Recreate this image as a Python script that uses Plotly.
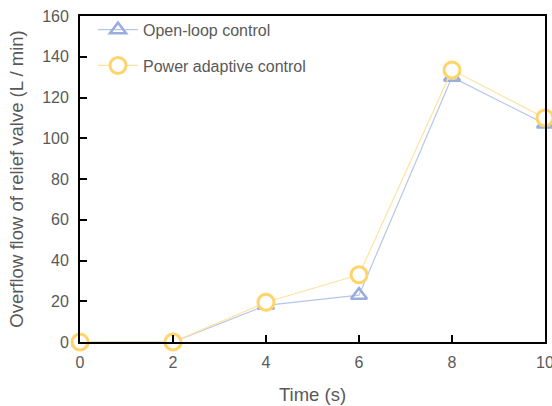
import plotly.graph_objects as go

time_s = [0, 2, 4, 6, 8, 10]
open_loop = [0, 0, 18, 23, 130, 107]
power_adaptive = [0, 0, 19.5, 33, 133.5, 110]
x_ticks = [0, 2, 4, 6, 8, 10]
y_ticks = [0, 20, 40, 60, 80, 100, 120, 140, 160]

blue = "#9AAEDD"
yellow = "#FFD469"
txt = "#595959"

fig = go.Figure()
fig.add_trace(go.Scatter(
    x=time_s, y=open_loop, name="Open-loop control", mode="lines+markers",
    legendgroup="a",
    line=dict(color="#B7C6E8", width=1.2),
    marker=dict(symbol="triangle-up-open", size=14, color=blue, line=dict(width=2.5, color=blue)),
    cliponaxis=False,
))
fig.add_trace(go.Scatter(
    x=time_s, y=power_adaptive, name="Power adaptive control", mode="lines+markers",
    legendgroup="b",
    line=dict(color="#FFE2A0", width=1.2),
    marker=dict(symbol="circle", size=16, color="white", line=dict(width=3, color=yellow)),
    cliponaxis=False,
))

fig.update_layout(
    width=552, height=406,
    margin=dict(l=80, r=7, t=16, b=64),
    paper_bgcolor="white", plot_bgcolor="white",
    font=dict(family="Liberation Sans, Arial, sans-serif", size=16, color=txt),
    showlegend=True,
    legend=dict(x=0.028, y=1.01, xanchor="left", yanchor="top", bgcolor="rgba(0,0,0,0)",
                font=dict(size=16, color=txt), itemwidth=40, tracegroupgap=12),
    xaxis=dict(
        range=[0, 10], tickvals=x_ticks, ticks="inside", ticklen=7, tickwidth=1.5,
        tickcolor="black", showline=True, linecolor="black", linewidth=1.8, mirror=True,
        showgrid=False, zeroline=False, automargin=False, ticklabeloverflow="allow",
        ticklabelstandoff=5,
        title=dict(text="Time (s)", font=dict(size=18.5, color=txt), standoff=18),
        tickfont=dict(size=16, color=txt),
    ),
    yaxis=dict(
        range=[0, 160], tickvals=y_ticks, ticks="inside", ticklen=7, tickwidth=1.5,
        tickcolor="black", showline=True, linecolor="black", linewidth=1.8, mirror=True,
        showgrid=False, zeroline=False, automargin=False, ticklabelstandoff=6,
        title=dict(text="Overflow flow of relief valve (L / min)", font=dict(size=18.5, color=txt), standoff=14),
        tickfont=dict(size=16, color=txt),
    ),
)

fig.write_html("out.html")
